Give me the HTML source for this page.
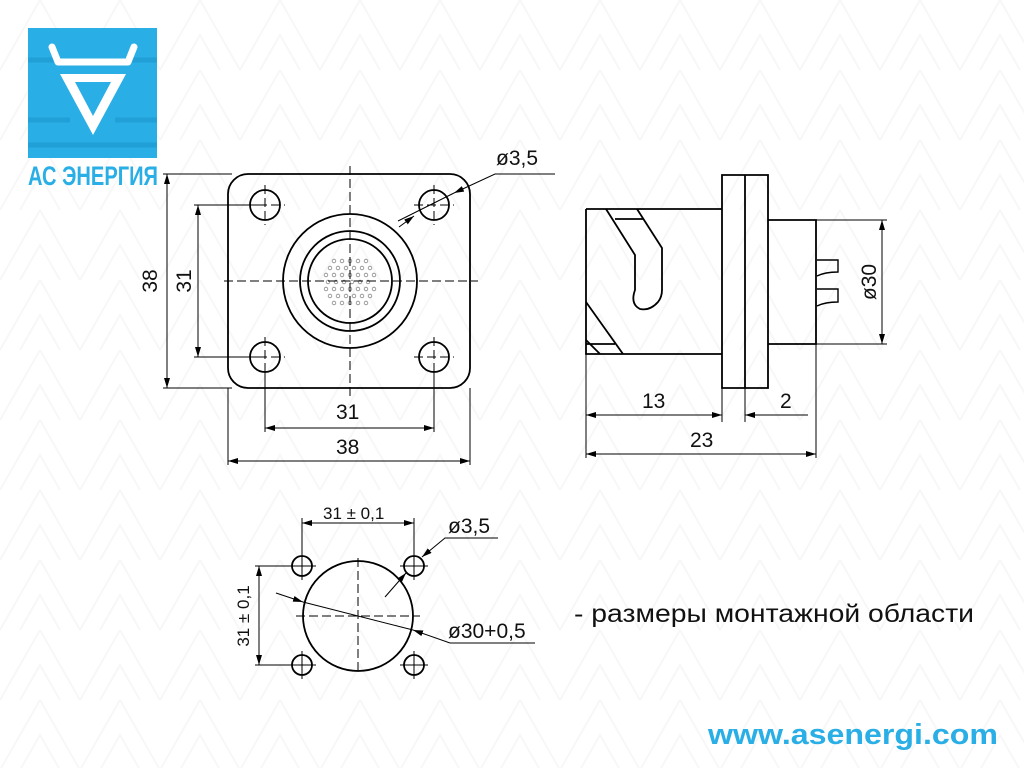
<!DOCTYPE html>
<html><head><meta charset="utf-8"><style>
body{margin:0;width:1024px;height:768px;background:#fff;overflow:hidden}
svg{display:block}
text{font-family:"Liberation Sans",sans-serif;fill:#111}
</style></head><body>
<svg width="1024" height="768" viewBox="0 0 1024 768" xmlns="http://www.w3.org/2000/svg">
<defs>
<marker id="a" viewBox="0 0 10 6" refX="10" refY="3" markerWidth="10" markerHeight="6" orient="auto-start-reverse" markerUnits="userSpaceOnUse"><path d="M0,0 L10,3 L0,6 z" fill="#000"/></marker>
<pattern id="bg" width="80" height="70" patternUnits="userSpaceOnUse"><path d="M0,70 L40,0 L80,70 M20,70 L40,35 L60,70" fill="none" stroke="#f7f7f7" stroke-width="2"/></pattern>
</defs>
<rect width="1024" height="768" fill="url(#bg)"/>
<rect x="28" y="28" width="129" height="130" fill="#29aee6"/>
<g fill="none" stroke="#1e9ad0" stroke-width="5" opacity="0.7">
<path d="M28,60 L60,60 M125,60 L157,60 M28,120 L70,120 M115,120 L157,120 M28,145 L157,145"/>
</g>
<path d="M52,47 L58,62 L128,62 L134,47" fill="none" stroke="#fff" stroke-width="7" stroke-linejoin="round" stroke-linecap="round"/>
<path d="M60,74 L126,74 L93,135 Z M75,82 L111,82 L93,116 Z" fill="#fff" fill-rule="evenodd"/>
<text x="28" y="185" font-size="27" font-weight="bold" style="fill:#29aee6" textLength="130" lengthAdjust="spacingAndGlyphs">АС ЭНЕРГИЯ</text>

<g stroke="#000" fill="none" stroke-width="1.8">
<rect x="228" y="174" width="242" height="214" rx="20"/>
<circle cx="265" cy="205" r="15"/><circle cx="434" cy="205" r="15"/>
<circle cx="265" cy="357" r="15"/><circle cx="434" cy="357" r="15"/>
<circle cx="350" cy="281" r="67"/>
<circle cx="350" cy="281" r="50"/>
<circle cx="350" cy="281" r="42"/>
<path d="M586,209 L722,209 M586,209 L586,354 L722,354 M722,175 L768,175 L768,388 L722,388 Z M745,175 L745,388 M768,220 L816,220 L816,344 L768,344"/>
<path d="M606,209 L635,255 L635,290 Q630,304 640,309 Q650,311 658,302 Q662,297 662,290 L662,248 L637,209 M615,219 L643,219"/>
<path d="M586,302 L623,354 M586,340 L600,354 M586,344 L615,344"/>
<path d="M817,260 L838,260 L838,272 Q825,272 817,276 M817,289 L838,289 L838,302 Q825,302 817,306" stroke-width="1.4"/>
<circle cx="358" cy="616" r="55"/>
<circle cx="302" cy="566" r="10"/><circle cx="414" cy="566" r="10"/>
<circle cx="302" cy="665" r="10"/><circle cx="414" cy="665" r="10"/>
</g>
<g fill="none" stroke="#888" stroke-width="0.8">
<circle cx="334" cy="261" r="1.8"/><circle cx="342" cy="261" r="1.8"/><circle cx="350" cy="261" r="1.8"/><circle cx="358" cy="261" r="1.8"/><circle cx="366" cy="261" r="1.8"/>
<circle cx="330" cy="268" r="1.8"/><circle cx="338" cy="268" r="1.8"/><circle cx="346" cy="268" r="1.8"/><circle cx="354" cy="268" r="1.8"/><circle cx="362" cy="268" r="1.8"/><circle cx="370" cy="268" r="1.8"/>
<circle cx="326" cy="275" r="1.8"/><circle cx="334" cy="275" r="1.8"/><circle cx="342" cy="275" r="1.8"/><circle cx="350" cy="275" r="1.8"/><circle cx="358" cy="275" r="1.8"/><circle cx="366" cy="275" r="1.8"/><circle cx="374" cy="275" r="1.8"/>
<circle cx="328" cy="282" r="1.8"/><circle cx="336" cy="282" r="1.8"/><circle cx="344" cy="282" r="1.8"/><circle cx="352" cy="282" r="1.8"/><circle cx="360" cy="282" r="1.8"/><circle cx="368" cy="282" r="1.8"/>
<circle cx="326" cy="289" r="1.8"/><circle cx="334" cy="289" r="1.8"/><circle cx="342" cy="289" r="1.8"/><circle cx="350" cy="289" r="1.8"/><circle cx="358" cy="289" r="1.8"/><circle cx="366" cy="289" r="1.8"/><circle cx="374" cy="289" r="1.8"/>
<circle cx="330" cy="296" r="1.8"/><circle cx="338" cy="296" r="1.8"/><circle cx="346" cy="296" r="1.8"/><circle cx="354" cy="296" r="1.8"/><circle cx="362" cy="296" r="1.8"/><circle cx="370" cy="296" r="1.8"/>
<circle cx="334" cy="303" r="1.8"/><circle cx="342" cy="303" r="1.8"/><circle cx="350" cy="303" r="1.8"/><circle cx="358" cy="303" r="1.8"/><circle cx="366" cy="303" r="1.8"/>
</g>
<g stroke="#000" stroke-width="1" fill="none" stroke-dasharray="9,4">
<path d="M350,166 L350,400 M224,281 L478,281"/>
<path d="M245,205 L285,205 M265,185 L265,225 M414,205 L454,205 M434,185 L434,225 M245,357 L285,357 M265,337 L265,377 M414,357 L454,357 M434,337 L434,377"/>
<path d="M358,558 L358,675 M296,616 L420,616"/>
</g>
<g stroke="#000" stroke-width="1" fill="none">
<path d="M288,566 L316,566 M302,552 L302,580 M400,566 L428,566 M414,552 L414,580 M288,665 L316,665 M302,651 L302,679 M400,665 L428,665 M414,651 L414,679"/>
<path d="M163,174 L232,174 M163,388 L232,388 M194,205 L258,205 M194,357 L258,357"/>
<path d="M228,388 L228,465 M470,388 L470,465 M265,370 L265,432 M434,370 L434,432"/>
<path d="M586,354 L586,458 M722,388 L722,422 M745,388 L745,422 M816,344 L816,458 M816,220 L887,220 M816,344 L887,344"/>
<path d="M302,518 L302,556 M414,518 L414,556 M255,566 L292,566 M255,665 L292,665"/>
<path d="M167,174 L167,388" marker-start="url(#a)" marker-end="url(#a)"/>
<path d="M198,205 L198,357" marker-start="url(#a)" marker-end="url(#a)"/>
<path d="M265,428 L434,428" marker-start="url(#a)" marker-end="url(#a)"/>
<path d="M228,461 L470,461" marker-start="url(#a)" marker-end="url(#a)"/>
<path d="M882,220 L882,344" marker-start="url(#a)" marker-end="url(#a)"/>
<path d="M586,415 L722,415" marker-start="url(#a)" marker-end="url(#a)"/>
<path d="M808,415 L745,415" marker-end="url(#a)"/>
<path d="M586,454 L816,454" marker-start="url(#a)" marker-end="url(#a)"/>
<path d="M302,523 L414,523" marker-start="url(#a)" marker-end="url(#a)"/>
<path d="M259,566 L259,665" marker-start="url(#a)" marker-end="url(#a)"/>
<path d="M555,174 L495,174 L454,193" marker-end="url(#a)"/>
<path d="M399,227 L414,216" marker-end="url(#a)"/>
<path d="M398,221 L454,193"/>
<path d="M498,538 L445,538 L422,557" marker-end="url(#a)"/>
<path d="M385,597 L406,573" marker-end="url(#a)"/>
<path d="M276,593 L303,602" marker-end="url(#a)"/>
<path d="M303,602 L413,630"/>
<path d="M535,643 L450,643 L413,630" marker-end="url(#a)"/>
</g>
<g font-size="21">
<text x="496" y="165">ø3,5</text>
<text x="336" y="419">31</text>
<text x="336" y="454">38</text>
<text x="642" y="408">13</text>
<text x="780" y="408">2</text>
<text x="690" y="447">23</text>
<text transform="translate(157,281) rotate(-90)" text-anchor="middle">38</text>
<text transform="translate(191,281) rotate(-90)" text-anchor="middle">31</text>
<text transform="translate(876,282) rotate(-90)" text-anchor="middle">ø30</text>
<text x="448" y="533">ø3,5</text>
<text x="448" y="638">ø30+0,5</text>
<text x="574" y="622" font-size="25" textLength="400" lengthAdjust="spacingAndGlyphs">- размеры монтажной области</text>
</g>
<text x="323" y="519" font-size="17">31 ± 0,1</text>
<text transform="translate(249,616) rotate(-90)" text-anchor="middle" font-size="17">31 ± 0,1</text>
<text x="708" y="744" font-size="29" font-weight="bold" style="fill:#29aee6" textLength="290" lengthAdjust="spacingAndGlyphs">www.asenergi.com</text>
</svg>
</body></html>
